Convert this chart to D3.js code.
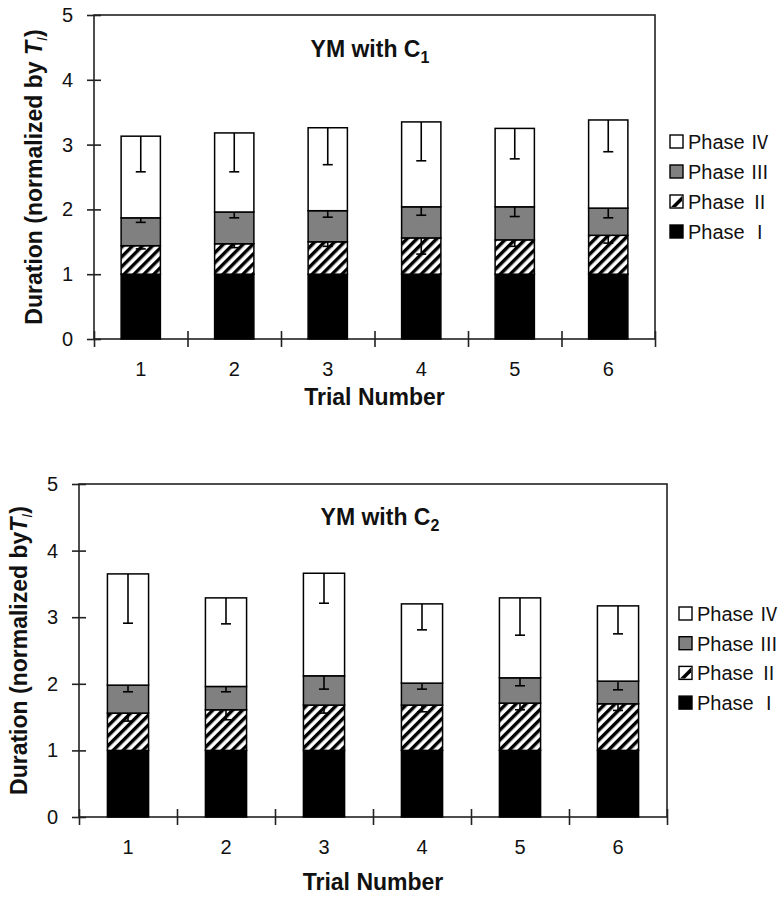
<!DOCTYPE html>
<html>
<head>
<meta charset="utf-8">
<script src="https://cdn.jsdelivr.net/npm/d3@7"></script>
<style>
  body { margin: 0; background: #fff; }
  svg { font-family: "Liberation Sans", Arial, sans-serif; }
</style>
</head>
<body>
<svg id="chart" width="782" height="899"></svg>
<script>
var trials = ["1", "2", "3", "4", "5", "6"];
var phaseKeys = ["p1", "p2", "p3", "p4"];
var phaseNumerals = ["\u2160", "\u2161", "\u2162", "\u2163"];
var yTicks = [0, 1, 2, 3, 4, 5];

// YM with C1 - duration of each phase (normalized)
var c1PhaseI   = [1, 1, 1, 1, 1, 1];
var c1PhaseII  = [0.44, 0.47, 0.50, 0.56, 0.53, 0.60];
var c1PhaseIII = [0.43, 0.49, 0.48, 0.48, 0.51, 0.42];
var c1PhaseIV  = [1.26, 1.22, 1.28, 1.31, 1.21, 1.36];
// minus error bars
var c1ErrII  = [0.05, 0.06, 0.07, 0.25, 0.10, 0.12];
var c1ErrIII = [0.07, 0.09, 0.10, 0.13, 0.15, 0.15];
var c1ErrIV  = [0.55, 0.60, 0.57, 0.60, 0.47, 0.49];

// YM with C2
var c2PhaseI   = [1, 1, 1, 1, 1, 1];
var c2PhaseII  = [0.56, 0.61, 0.68, 0.68, 0.71, 0.70];
var c2PhaseIII = [0.42, 0.35, 0.44, 0.33, 0.38, 0.34];
var c2PhaseIV  = [1.67, 1.33, 1.54, 1.19, 1.20, 1.13];
var c2ErrII  = [0.12, 0.15, 0.12, 0.10, 0.10, 0.10];
var c2ErrIII = [0.10, 0.08, 0.20, 0.09, 0.12, 0.13];
var c2ErrIV  = [0.74, 0.39, 0.45, 0.39, 0.56, 0.42];

var svg = d3.select("#chart");
var fills = ["#000", "url(#hatch)", "#808080", "#fff"];

// diagonal hatch for phase II
var pat = svg.append("defs").append("pattern")
  .attr("id", "hatch")
  .attr("patternUnits", "userSpaceOnUse")
  .attr("width", 7).attr("height", 7)
  .attr("patternTransform", "rotate(45)");
pat.append("rect").attr("width", 7).attr("height", 7).attr("fill", "#fff");
pat.append("rect").attr("width", 3.4).attr("height", 7).attr("fill", "#000");

function drawChart(o) {
  var g = svg.append("g");

  var rows = trials.map(function (t, i) {
    return { trial: t, p1: o.vals[0][i], p2: o.vals[1][i], p3: o.vals[2][i], p4: o.vals[3][i] };
  });
  var series = d3.stack().keys(phaseKeys)(rows);

  var x = d3.scaleBand().domain(trials).range([o.left, o.right])
    .paddingInner(0.58).paddingOuter(0.29);
  var xt = d3.scaleLinear().domain([0, trials.length]).range([o.left, o.right]);
  var y = d3.scaleLinear().domain([0, 5]).range([o.bottom, o.top]);

  // plot frame
  g.append("rect")
    .attr("x", o.left).attr("y", o.top)
    .attr("width", o.right - o.left).attr("height", o.bottom - o.top)
    .attr("fill", "none").attr("stroke", "#222").attr("stroke-width", 1.6);

  // bars
  g.selectAll("g.series")
    .data(series)
    .enter().append("g")
      .attr("class", "series")
      .attr("fill", function (d, i) { return fills[i]; })
    .selectAll("rect")
    .data(function (d) { return d; })
    .enter().append("rect")
      .attr("x", function (d) { return x(d.data.trial); })
      .attr("width", x.bandwidth())
      .attr("y", function (d) { return y(d[1]); })
      .attr("height", function (d) { return y(d[0]) - y(d[1]); })
      .attr("stroke", "#000")
      .attr("stroke-width", 1.5);

  // minus error bars, from top of each segment
  var errs = [];
  series.forEach(function (s, k) {
    if (!o.errs[k]) return;
    s.forEach(function (d, i) {
      errs.push({ trial: d.data.trial, top: d[1], low: d[1] - o.errs[k][i] });
    });
  });
  var eg = g.append("g").attr("stroke", "#000").attr("stroke-width", 1.6);
  eg.selectAll("line.v").data(errs).enter().append("line")
    .attr("x1", function (d) { return x(d.trial) + x.bandwidth() / 2; })
    .attr("x2", function (d) { return x(d.trial) + x.bandwidth() / 2; })
    .attr("y1", function (d) { return y(d.top); })
    .attr("y2", function (d) { return y(d.low); });
  eg.selectAll("line.c").data(errs).enter().append("line")
    .attr("x1", function (d) { return x(d.trial) + x.bandwidth() / 2 - 5; })
    .attr("x2", function (d) { return x(d.trial) + x.bandwidth() / 2 + 5; })
    .attr("y1", function (d) { return y(d.low); })
    .attr("y2", function (d) { return y(d.low); });

  // y axis
  var ya = g.append("g")
    .attr("transform", "translate(" + o.left + ",0)")
    .call(d3.axisLeft(y).tickValues(yTicks).tickFormat(d3.format("d")).tickSize(7).tickPadding(14));
  ya.select(".domain").remove();
  ya.selectAll(".tick line").attr("x1", 7).attr("x2", -7).attr("stroke", "#222").attr("stroke-width", 1.6);
  ya.selectAll(".tick text").attr("font-size", 20).attr("fill", "#111")
    .style("font-family", "Liberation Sans, Arial, sans-serif");

  // x tick marks between categories
  var xa = g.append("g")
    .attr("transform", "translate(0," + o.bottom + ")")
    .call(d3.axisBottom(xt).tickValues(d3.range(trials.length + 1)).tickFormat("").tickSize(7));
  xa.select(".domain").remove();
  xa.selectAll(".tick line").attr("y1", -8).attr("y2", 8).attr("stroke", "#222").attr("stroke-width", 1.6);

  // x labels
  var xl = g.append("g")
    .attr("transform", "translate(0," + o.bottom + ")")
    .call(d3.axisBottom(x).tickSize(0).tickPadding(23));
  xl.select(".domain").remove();
  xl.selectAll(".tick text").attr("font-size", 20).attr("fill", "#111")
    .style("font-family", "Liberation Sans, Arial, sans-serif");

  // chart title
  var t = g.append("text")
    .attr("x", o.titleX).attr("y", o.titleY)
    .attr("text-anchor", "middle")
    .attr("font-size", 23).attr("font-weight", "bold").attr("fill", "#111");
  t.append("tspan").text("YM with C");
  t.append("tspan").attr("dy", 6).attr("font-size", 16).text(o.sub);

  // y title
  var yt = g.append("text")
    .attr("transform", "translate(" + o.yTitleX + "," + (o.top + o.bottom) / 2 + ") rotate(-90)")
    .attr("text-anchor", "middle")
    .attr("font-size", 23).attr("font-weight", "bold").attr("fill", "#111");
  yt.append("tspan").text(o.yTitle);
  yt.append("tspan").attr("font-style", "italic").text("T");
  yt.append("tspan").attr("dy", 5).attr("font-size", 14).attr("font-weight", "normal").attr("font-style", "italic").text("I");
  yt.append("tspan").attr("dy", -5).text(")");

  // x title
  g.append("text")
    .attr("x", (o.left + o.right) / 2).attr("y", o.bottom + o.xTitleOff)
    .attr("text-anchor", "middle")
    .attr("font-size", 23).attr("font-weight", "bold").attr("fill", "#111")
    .text("Trial Number");

  // legend
  var lg = g.append("g").attr("transform", "translate(" + o.legX + "," + o.legY + ")");
  var items = lg.selectAll("g").data(d3.range(phaseNumerals.length).reverse())
    .enter().append("g")
      .attr("transform", function (d, i) { return "translate(0," + i * o.legStep + ")"; });
  items.append("rect")
    .attr("x", 0).attr("y", -7).attr("width", 13).attr("height", 13)
    .attr("fill", function (d) { return d === 1 ? "#fff" : fills[d]; })
    .attr("stroke", "#000").attr("stroke-width", 1.4);
  items.filter(function (d) { return d === 1; }).append("path")
    .attr("d", "M1,5 L12,-6 L12,-1 L6,5 Z")
    .attr("fill", "#000");
  var lt = items.append("text")
    .attr("x", 18).attr("y", 7)
    .attr("font-size", 20).attr("fill", "#111");
  lt.append("tspan").text("Phase ");
  lt.append("tspan")
    .style("font-family", "'Noto Sans CJK JP', 'Noto Sans CJK SC', sans-serif")
    .attr("font-size", 19)
    .text(function (d) { return phaseNumerals[d]; });
}

drawChart({
  left: 94, right: 655, top: 15, bottom: 339,
  vals: [c1PhaseI, c1PhaseII, c1PhaseIII, c1PhaseIV],
  errs: [null, c1ErrII, c1ErrIII, c1ErrIV],
  titleX: 370, titleY: 57, sub: "1",
  yTitleX: 42, yTitle: "Duration (normalized by ",
  xTitleOff: 66,
  legX: 670, legY: 142, legStep: 30
});

drawChart({
  left: 79, right: 667, top: 484, bottom: 817,
  vals: [c2PhaseI, c2PhaseII, c2PhaseIII, c2PhaseIV],
  errs: [null, c2ErrII, c2ErrIII, c2ErrIV],
  titleX: 380, titleY: 525, sub: "2",
  yTitleX: 27, yTitle: "Duration (normalized by",
  xTitleOff: 73,
  legX: 679, legY: 614, legStep: 29.7
});
</script>
</body>
</html>
